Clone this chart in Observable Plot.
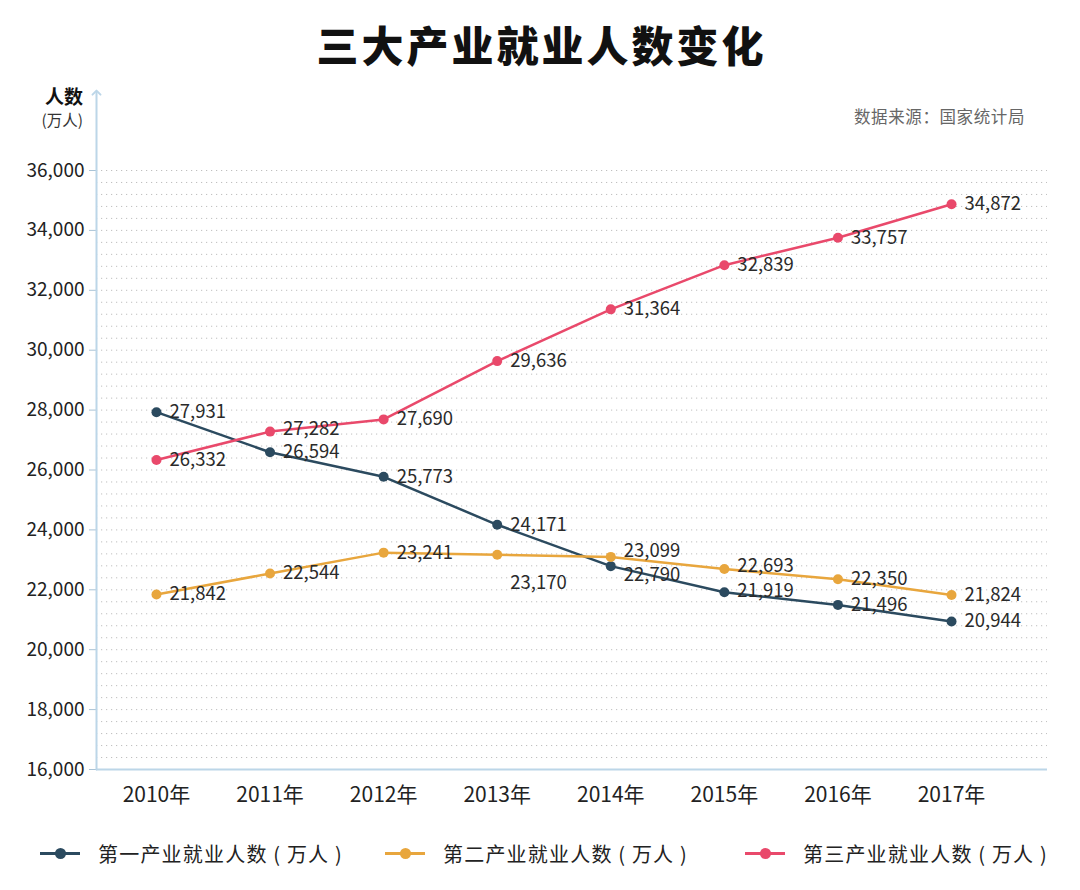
<!DOCTYPE html>
<html>
<head>
<meta charset="utf-8">
<script src="https://cdn.jsdelivr.net/npm/d3@7"></script>
<script src="https://cdn.jsdelivr.net/npm/@observablehq/plot@0.6"></script>
<style>
  html, body { margin: 0; padding: 0; background: #fff; }
  body { font-family: "Noto Sans CJK SC", "Noto Sans", sans-serif; }
  #page { position: relative; width: 1080px; height: 890px; overflow: hidden; }
  #title { position: absolute; left: 0; top: 0; width: 1080px; height: 80px; line-height: 88px;
           text-align: center; font-family: "Noto Sans CJK SC", sans-serif; font-size: 42px; font-weight: 900; color: #111;
           letter-spacing: 3px; padding-left: 3px; box-sizing: border-box; }
  #chart { position: absolute; left: 0; top: 80px; }
  .abs { position: absolute; white-space: nowrap; }
  #ylab1 { right: 997px; top: 84px; font-size: 19px; font-weight: 700; color: #111; line-height: 24px; }
  #ylab2 { right: 997px; top: 108px; font-size: 15.5px; color: #333; line-height: 22px; }
  #source { right: 55px; top: 104px; font-size: 16.5px; color: #666; line-height: 24px; letter-spacing: 0.6px; }
  .leg { position: absolute; top: 838px; height: 30px; display: flex; align-items: center; }
  .sw { position: relative; width: 40px; height: 30px; margin-right: 18px; }
  .sw .ln { position: absolute; left: 0; right: 0; top: 14px; height: 3px; }
  .sw .dt { position: absolute; left: 15px; top: 10px; width: 11px; height: 11px; border-radius: 50%; }
  .leg span { font-size: 20px; color: #222; letter-spacing: 1.2px; }
</style>
</head>
<body>
<div id="page">
  <div id="title">三大产业就业人数变化</div>
  <div id="chart"></div>
  <div class="abs" id="ylab1">人数</div>
  <div class="abs" id="ylab2">(万人)</div>
  <div class="abs" id="source">数据来源：国家统计局</div>
  <div id="legend"></div>
</div>
<script>
const years = [2010, 2011, 2012, 2013, 2014, 2015, 2016, 2017];
const primary   = [27931, 26594, 25773, 24171, 22790, 21919, 21496, 20944];
const secondary = [21842, 22544, 23241, 23170, 23099, 22693, 22350, 21824];
const tertiary  = [26332, 27282, 27690, 29636, 31364, 32839, 33757, 34872];
const seriesNames = ["第一产业就业人数 ( 万人 )", "第二产业就业人数 ( 万人 )", "第三产业就业人数 ( 万人 )"];
const yTicks = [16000, 18000, 20000, 22000, 24000, 26000, 28000, 30000, 32000, 34000, 36000];

const colors = ["#2b4a5f", "#e8a63d", "#e9496b"];
const seriesValues = [primary, secondary, tertiary];

const data = [];
seriesValues.forEach((vals, si) => {
  vals.forEach((v, i) => data.push({series: si, year: years[i], value: v}));
});

// label nudges to avoid overlaps (vertical offset in px)
function labelDy(d) {
  if (d.series === 2 && d.year === 2011) return -3;
  if (d.series === 1 && d.year === 2013) return 28;
  if (d.series === 0 && d.year === 2014) return 9;
  if (d.series === 1 && d.year === 2014) return -6;
  if (d.series === 0 && d.year === 2015) return -1;
  if (d.series === 1 && d.year === 2015) return -3;
  return 0;
}

const xMin = 2009.472, xMax = 2017.845;
const gridVals = d3.range(16400, 36001, 400);

const marks = [
  Plot.gridY(gridVals, {stroke: "#8a8a8a", strokeOpacity: 0.55, strokeDasharray: "1.2,3.8", strokeWidth: 1}),
  Plot.axisY({ticks: yTicks, tickFormat: d3.format(","), tickSize: 7, tickPadding: 5, fontSize: 19, fill: "#222", stroke: "#a9c3d6", label: null}),
  Plot.axisX({ticks: years, tickFormat: d => d + "年", tickSize: 0, tickPadding: 18, fontSize: 21, fill: "#222", label: null}),
  Plot.ruleY([16000], {stroke: "#bcd6e8", strokeWidth: 2}),
  Plot.line([{x: xMin, y: 16000}, {x: xMin, y: 38600}], {x: "x", y: "y", stroke: "#bcd6e8", strokeWidth: 2, markerEnd: "arrow"}),
];
seriesValues.forEach((vals, si) => {
  const sd = data.filter(d => d.series === si);
  marks.push(Plot.line(sd, {x: "year", y: "value", stroke: colors[si], strokeWidth: 2.5}));
  marks.push(Plot.dot(sd, {x: "year", y: "value", fill: colors[si], r: 5}));
});
seriesValues.forEach((vals, si) => {
  const sd = data.filter(d => d.series === si);
  sd.forEach(d => {
    marks.push(Plot.text([d], {x: "year", y: "value", text: d => d3.format(",")(d.value),
      dx: 13, dy: labelDy(d), textAnchor: "start", fontSize: 18.5, fill: "#2a2a2a"}));
  });
});

const chart = Plot.plot({
  width: 1080,
  height: 740,
  marginLeft: 96,
  marginRight: 33,
  marginTop: 90,
  marginBottom: 51,
  style: {fontFamily: '"Noto Sans CJK SC", "Noto Sans", sans-serif', background: "transparent", overflow: "visible"},
  x: {type: "linear", domain: [xMin, xMax]},
  y: {domain: [16000, 36000]},
  marks
});
document.getElementById("chart").appendChild(chart);

// legend
const legendX = [40, 385, 745];
const legend = document.getElementById("legend");
seriesNames.forEach((name, i) => {
  const item = document.createElement("div");
  item.className = "leg";
  item.style.left = legendX[i] + "px";
  item.innerHTML = `<div class="sw"><div class="ln" style="background:${colors[i]}"></div><div class="dt" style="background:${colors[i]}"></div></div><span>${name}</span>`;
  legend.appendChild(item);
});
</script>
</body>
</html>
